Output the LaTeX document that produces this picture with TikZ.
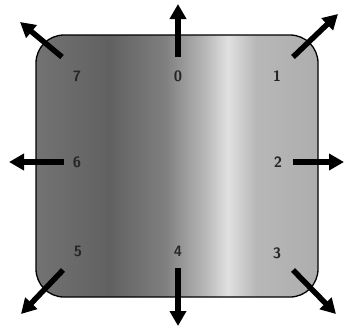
\documentclass[tikz,border=0pt]{standalone}
\usetikzlibrary{arrows.meta}
\pgfdeclarehorizontalshading{boxshade}{100bp}{color(0bp)=(black!55); color(25bp)=(black!55); color(38bp)=(black!62); color(48bp)=(black!50); color(55bp)=(black!28); color(59bp)=(black!12); color(64bp)=(black!28); color(75bp)=(black!32); color(100bp)=(black!32)}
\tikzset{
  dirarrow/.style={line width=5.5pt, -{Triangle[length=15pt,width=16pt]}},
  numlabel/.style={font=\sffamily\bfseries\fontsize{15}{17}\selectfont, text=black!85, inner sep=1pt},
  panel/.style={draw=black, line width=1.3pt, rounded corners=28pt, shading=boxshade}
}
\begin{document}
\begin{tikzpicture}[x=1pt,y=-1pt]
\useasboundingbox (0,0) rectangle (344,327);
\path[panel] (36,35) rectangle (318,297);
\node[numlabel] (n7) at (77,76) {7};
\node[numlabel] (n0) at (178,76) {0};
\node[numlabel] (n1) at (277,76) {1};
\node[numlabel] (n6) at (77,162) {6};
\node[numlabel] (n2) at (278,162) {2};
\node[numlabel] (n5) at (78,251) {5};
\node[numlabel] (n4) at (178,251) {4};
\node[numlabel] (n3) at (277,253) {3};
\coordinate (s0) at (178,57);  \coordinate (e0) at (178,4);
\coordinate (s1) at (293,57);  \coordinate (e1) at (338,14);
\coordinate (s2) at (293,162); \coordinate (e2) at (344,162);
\coordinate (s3) at (293,270); \coordinate (e3) at (336,314);
\coordinate (s4) at (178,268); \coordinate (e4) at (178,326);
\coordinate (s5) at (63,270);  \coordinate (e5) at (21,314);
\coordinate (s6) at (64,162);  \coordinate (e6) at (9,162);
\coordinate (s7) at (62,57);   \coordinate (e7) at (20,22);
\foreach \i in {0,...,7} {\draw[dirarrow] (s\i) -- (e\i);}
\end{tikzpicture}
\end{document}
